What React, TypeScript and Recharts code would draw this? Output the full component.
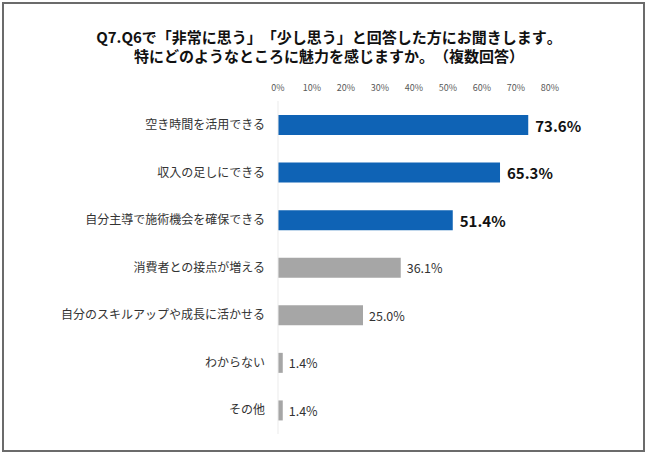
import React from 'react';
import { BarChart, Bar, XAxis, YAxis, Cell, LabelList } from 'recharts';

const categories = [
  '空き時間を活用できる',
  '収入の足しにできる',
  '自分主導で施術機会を確保できる',
  '消費者との接点が増える',
  '自分のスキルアップや成長に活かせる',
  'わからない',
  'その他',
];
const values = [73.6, 65.3, 51.4, 36.1, 25.0, 1.4, 1.4];
const xTicks = [0, 10, 20, 30, 40, 50, 60, 70, 80];
const titleLines = [
  'Q7.Q6で「非常に思う」「少し思う」と回答した方にお聞きします。',
  '特にどのようなところに魅力を感じますか。（複数回答）',
];
const highlightCount = 3;

const BLUE = '#0F63B5';
const GRAY = '#A6A6A6';
const FONT = '"Noto Sans CJK JP", "Noto Sans", sans-serif';

const data = categories.map((name, i) => ({ name, value: values[i] }));

const renderValue = (props: any) => {
  const { x, y, width, height, value, index } = props;
  const big = index < highlightCount;
  return (
    <text
      x={x + width + (big ? 7 : 6)}
      y={y + height / 2}
      dominantBaseline="central"
      fontSize={big ? 15 : 12.5}
      fontWeight={big ? 700 : 400}
      fill={big ? '#111' : '#333'}
      fontFamily={FONT}
    >
      {value.toFixed(1)}%
    </text>
  );
};

export default function App() {
  return (
    <div
      style={{
        position: 'absolute',
        left: 0,
        top: 0,
        width: 650,
        height: 458,
        background: '#fff',
        fontFamily: FONT,
      }}
    >
      <div
        style={{
          position: 'absolute',
          left: 2,
          top: 2,
          width: 639,
          height: 446,
          border: '2px solid #6b6b6b',
        }}
      />
      <div
        style={{
          position: 'absolute',
          left: 4,
          top: 27,
          width: 650,
          textAlign: 'center',
          fontSize: 15,
          fontWeight: 700,
          lineHeight: '19px',
          color: '#111',
          textSpacingTrim: 'space-all',
          fontKerning: 'none',
        } as any}
      >
        {titleLines.map((t) => (
          <div key={t}>{t}</div>
        ))}
      </div>
      <div style={{ position: 'absolute', left: 0, top: 0 }}>
        <BarChart
          width={650}
          height={458}
          data={data}
          layout="vertical"
          margin={{ top: 81, right: 100, bottom: 24, left: 0 }}
        >
          <XAxis
            type="number"
            orientation="top"
            domain={[0, 80]}
            ticks={xTicks}
            tickFormatter={(v) => `${v}%`}
            axisLine={false}
            tickLine={false}
            height={20}
            tickMargin={4}
            tick={{ fontSize: 9, fill: '#595959', fontFamily: FONT }}
            interval={0}
          />
          <YAxis
            type="category"
            dataKey="name"
            width={278}
            axisLine={{ stroke: '#ebebeb' }}
            tickLine={false}
            tickMargin={7}
            tick={{ fontSize: 12, fill: '#333', fontFamily: FONT }}
            interval={0}
          />
          <Bar dataKey="value" barSize={20} isAnimationActive={false}>
            {data.map((d, i) => (
              <Cell key={d.name} fill={i < highlightCount ? BLUE : GRAY} />
            ))}
            <LabelList dataKey="value" content={renderValue} />
          </Bar>
        </BarChart>
      </div>
    </div>
  );
}
